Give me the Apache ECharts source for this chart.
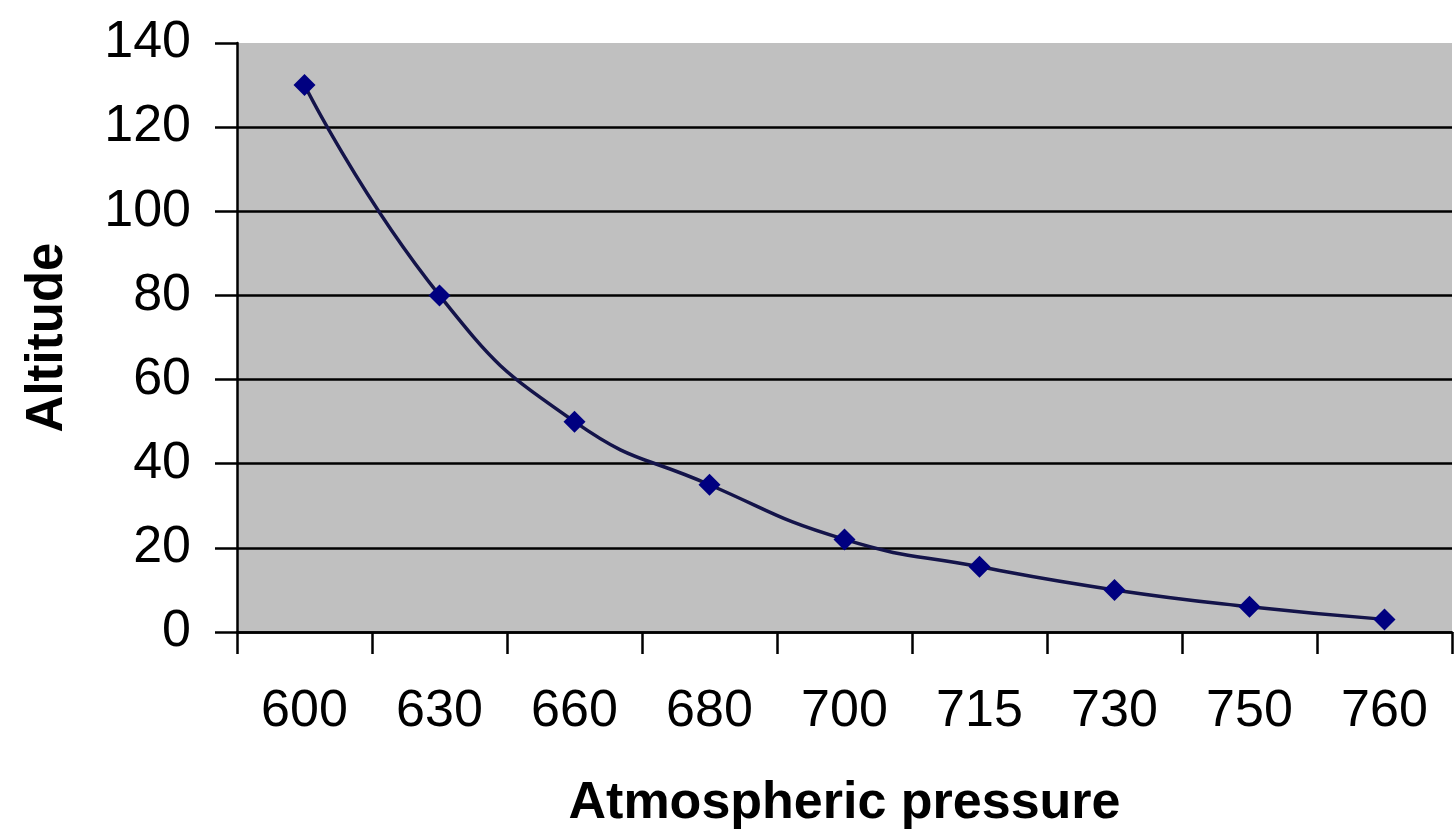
<!DOCTYPE html>
<html>
<head>
<meta charset="utf-8">
<script src="https://cdn.jsdelivr.net/npm/echarts@6/dist/echarts.min.js"></script>
<style>html,body{margin:0;padding:0;background:#fff}#c{width:1455px;height:835px}</style>
</head>
<body>
<div id="c"></div>
<script>
const pressures = ['600','630','660','680','700','715','730','750','760'];
const altitudes = [130, 80, 50, 35, 22, 15.5, 10, 6, 3];
const yTicks = {min: 0, max: 140, interval: 20};

const chart = echarts.init(document.getElementById('c'));
const labelFont = '"Liberation Sans", Arial, sans-serif';
chart.setOption({
  backgroundColor: '#fff',
  animation: false,
  grid: {left: 237, right: 3, top: 43, bottom: 203, show: true, backgroundColor: '#c0c0c0', borderWidth: 0},
  xAxis: {
    type: 'category',
    data: pressures,
    boundaryGap: true,
    name: 'Atmospheric pressure',
    nameLocation: 'middle',
    nameGap: 146,
    nameTextStyle: {fontFamily: labelFont, fontWeight: 'bold', fontSize: 52, color: '#000'},
    axisLine: {lineStyle: {color: '#000', width: 2.5}},
    axisTick: {show: true, length: 22, lineStyle: {color: '#000', width: 2.5}},
    axisLabel: {fontFamily: labelFont, fontSize: 52, color: '#000', margin: 54},
    splitLine: {show: false}
  },
  yAxis: {
    type: 'value',
    min: yTicks.min, max: yTicks.max, interval: yTicks.interval,
    name: 'Altitude',
    nameLocation: 'middle',
    nameRotate: 90,
    nameGap: 164,
    nameTextStyle: {fontFamily: labelFont, fontWeight: 'bold', fontSize: 51, color: '#000'},
    axisLine: {show: true, lineStyle: {color: '#000', width: 2.5}},
    axisTick: {show: true, length: 22, lineStyle: {color: '#000', width: 2.5}},
    axisLabel: {fontFamily: labelFont, fontSize: 52, color: '#000', margin: 46},
    splitLine: {show: true, showMaxLine: false, lineStyle: {color: '#000', width: 2.5}}
  },
  series: [{
    type: 'line',
    data: altitudes,
    smooth: true,
    lineStyle: {color: '#14144a', width: 3.5},
    itemStyle: {color: '#000080'},
    symbol: 'diamond',
    symbolSize: 22,
    showAllSymbol: true
  }]
});
</script>
</body>
</html>
